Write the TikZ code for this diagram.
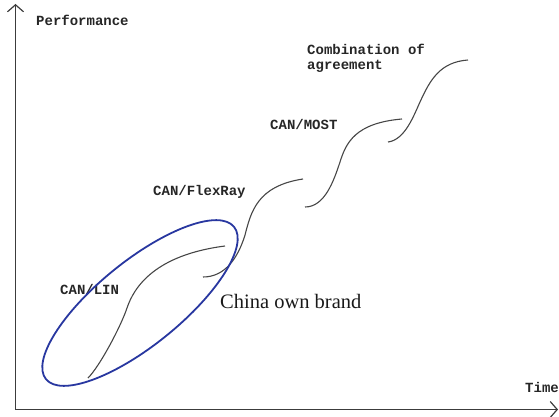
\documentclass[tikz,border=0pt]{standalone}
\usepackage{fontspec}
\setmainfont{Liberation Serif}
\newfontfamily\labelfont{Liberation Mono}
\usetikzlibrary{arrows.meta}
\definecolor{axisgray}{RGB}{60,60,60}
\definecolor{curvegray}{RGB}{70,70,70}
\definecolor{ringblue}{RGB}{40,55,160}
\begin{document}
\begin{tikzpicture}[x=1pt,y=-1pt,
  axis/.style={draw=axisgray,line width=1.4pt,-{Straight Barb[length=7pt,width=16pt,line width=1.2pt]}},
  stage/.style={draw=curvegray,line width=1.1pt},
  monolabel/.style={anchor=base west,inner sep=0pt,font=\labelfont\bfseries\fontsize{14}{15}\selectfont,text=black!85},
  serifnote/.style={anchor=base west,inner sep=0pt,font=\fontsize{20.5}{22}\selectfont,text=black!90}]
\useasboundingbox (0,0) rectangle (559,417);
% axes
\coordinate (origin) at (15.5,409.5);
\coordinate (ytop) at (15.5,4);
\coordinate (xend) at (558,409.5);
\draw[axis] (origin) -- (ytop);
\draw[axis] (origin) -- (xend);
% axis titles
\node[monolabel] (perf) at (36,26) {Performance};
\node[monolabel] (time) at (525,392) {Time};
% technology stages (S-shaped growth curves)
\draw[stage] (88,378) .. controls (100,366) and (121,326) .. (127,308)
  .. controls (134,287) and (155,255) .. (225,246);
\draw[stage] (203,277) .. controls (225,277) and (238,258) .. (245,235)
  .. controls (251,212) and (257,186) .. (303,179);
\draw[stage] (305,207) .. controls (325,207) and (334,180) .. (340,162)
  .. controls (346,143) and (355,123) .. (402,119);
\draw[stage] (388,142) .. controls (405,140) and (414,115) .. (420,102)
  .. controls (430,80) and (440,62) .. (468,60);
% stage labels
\node[monolabel] (lin) at (60,294.5) {CAN/LIN};
\node[monolabel] (flex) at (153,195.5) {CAN/FlexRay};
\node[monolabel] (most) at (270,129.5) {CAN/MOST};
\node[monolabel] (comb1) at (307,54.5) {Combination of};
\node[monolabel] (comb2) at (307,70) {agreement};
% highlighted region
\coordinate (ringc) at (140,303);
\draw[draw=ringblue,line width=1.8pt,rotate around={39:(ringc)}] (ringc) ellipse [x radius=121pt,y radius=42pt];
\node[serifnote] (brand) at (220,308) {China own brand};
\end{tikzpicture}
\end{document}
